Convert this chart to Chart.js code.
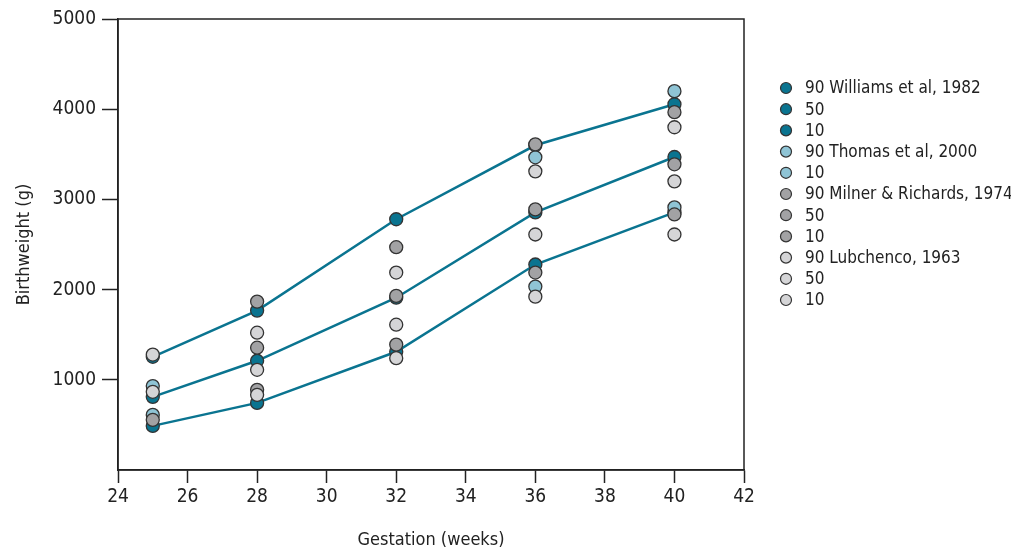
<!DOCTYPE html>
<html>
<head>
<meta charset="utf-8">
<script src="https://cdn.jsdelivr.net/npm/chart.js@4"></script>
<style>
    html, body { margin: 0; padding: 0; background: #fff; }
    #wrap { width: 1011px; height: 552px; position: relative; }
</style>
</head>
<body>
<div id="wrap"><canvas id="birthChart"></canvas></div>
<script>
// Birthweight centiles by gestation, four studies
const weeks = [25, 28, 32, 36, 40];

const williams90 = [1255, 1767, 2780, 3600, 4055];
const williams50 = [811, 1211, 1910, 2856, 3470];
const williams10 = [489, 744, 1311, 2278, 2856];

const thomas90 = [930, null, null, 3467, 4200];
const thomas10 = [611, null, null, 2033, 2911];

const milner90 = [null, 1867, 2470, 3611, 3967];
const milner50 = [null, 1356, 1930, 2889, 3389];
const milner10 = [556, 889, 1390, 2189, 2833];

const lubchenco90 = [1280, 1522, 2189, 3311, 3800];
const lubchenco50 = [867, 1111, 1611, 2611, 3200];
const lubchenco10 = [null, 833, 1240, 1922, 2611];

const legendLabels = [
    '90 Williams et al, 1982', '50', '10',
    '90 Thomas et al, 2000', '10',
    '90 Milner & Richards, 1974', '50', '10',
    '90 Lubchenco, 1963', '50', '10',
];

const TEAL = '#0a7490';
const LIGHT_BLUE = '#8fc4d5';
const MID_GREY = '#a2a2a4';
const LIGHT_GREY = '#d5d5d7';
const FONT = '"Liberation Sans Narrow", "DejaVu Sans Condensed", sans-serif';

function toPoints(values) {
    return weeks
        .map((w, i) => ({ x: w, y: values[i] }))
        .filter(p => p.y !== null);
}

function series(label, values, color, order, line) {
    return {
        label: label,
        data: toPoints(values),
        showLine: line,
        borderColor: line ? TEAL : '#333',
        borderWidth: 2.5,
        pointBackgroundColor: color,
        pointBorderColor: '#333',
        pointBorderWidth: 1.3,
        pointRadius: 6.5,
        pointHoverRadius: 6.5,
        order: order,
    };
}

const datasets = [
    series(legendLabels[0], williams90, TEAL, 3, true),
    series(legendLabels[1], williams50, TEAL, 3, true),
    series(legendLabels[2], williams10, TEAL, 3, true),
    series(legendLabels[3], thomas90, LIGHT_BLUE, 2, false),
    series(legendLabels[4], thomas10, LIGHT_BLUE, 2, false),
    series(legendLabels[5], milner90, MID_GREY, 1, false),
    series(legendLabels[6], milner50, MID_GREY, 1, false),
    series(legendLabels[7], milner10, MID_GREY, 1, false),
    series(legendLabels[8], lubchenco90, LIGHT_GREY, 0, false),
    series(legendLabels[9], lubchenco50, LIGHT_GREY, 0, false),
    series(legendLabels[10], lubchenco10, LIGHT_GREY, 0, false),
];

// box round the plot area
const framePlugin = {
    id: 'frame',
    afterDraw(chart) {
        const { ctx, chartArea } = chart;
        ctx.save();
        ctx.strokeStyle = '#222';
        ctx.lineWidth = 1.5;
        ctx.strokeRect(chartArea.left, chartArea.top,
            chartArea.right - chartArea.left, chartArea.bottom - chartArea.top);
        ctx.restore();
    },
};

// legend list on the right, in dataset order
const sideLegend = {
    id: 'sideLegend',
    afterDraw(chart) {
        const ctx = chart.ctx;
        const x = chart.chartArea.right + 42;
        const y0 = 88;
        const step = 21.2;
        ctx.save();
        ctx.font = '17px ' + FONT;
        ctx.textBaseline = 'middle';
        chart.data.datasets.forEach((ds, i) => {
            const y = y0 + i * step;
            ctx.beginPath();
            ctx.arc(x, y, 5.5, 0, Math.PI * 2);
            ctx.fillStyle = ds.pointBackgroundColor;
            ctx.fill();
            ctx.lineWidth = 1.2;
            ctx.strokeStyle = '#333';
            ctx.stroke();
            ctx.fillStyle = '#222';
            ctx.fillText(ds.label, x + 19, y + 1);
        });
        ctx.restore();
    },
};

const ctx = document.getElementById('birthChart').getContext('2d');
new Chart(ctx, {
    type: 'scatter',
    data: { datasets: datasets },
    plugins: [framePlugin, sideLegend],
    options: {
        responsive: true,
        maintainAspectRatio: false,
        animation: false,
        layout: {
            padding: { top: 19, right: 267, left: 0, bottom: 0 },
        },
        plugins: {
            legend: { display: false },
            tooltip: { enabled: false },
        },
        scales: {
            x: {
                type: 'linear',
                min: 24,
                max: 42,
                afterFit: (scale) => { scale.height = 82; },
                ticks: {
                    stepSize: 2,
                    color: '#222',
                    padding: 3,
                    font: { family: FONT, size: 19 },
                },
                grid: {
                    drawOnChartArea: false,
                    tickLength: 13,
                    tickColor: '#222',
                    tickWidth: 1.5,
                },
                border: { color: '#222', width: 1.5 },
                title: {
                    display: true,
                    text: 'Gestation (weeks)',
                    color: '#222',
                    padding: { top: 0, bottom: 1 },
                    font: { family: FONT, size: 18 },
                },
            },
            y: {
                min: 0,
                max: 5000,
                afterFit: (scale) => { scale.width = 118; },
                ticks: {
                    stepSize: 1000,
                    color: '#222',
                    padding: 6,
                    font: { family: FONT, size: 19 },
                    callback: (v) => (v === 0 ? '' : v),
                },
                grid: {
                    drawOnChartArea: false,
                    tickLength: 16,
                    tickColor: (c) => (c.tick && c.tick.value === 0 ? 'rgba(0,0,0,0)' : '#222'),
                    tickWidth: 1.5,
                },
                border: { color: '#222', width: 1.5 },
                title: {
                    display: true,
                    text: 'Birthweight (g)',
                    color: '#222',
                    padding: { top: 14, bottom: 0 },
                    font: { family: FONT, size: 18 },
                },
            },
        },
    },
});
</script>
</body>
</html>
